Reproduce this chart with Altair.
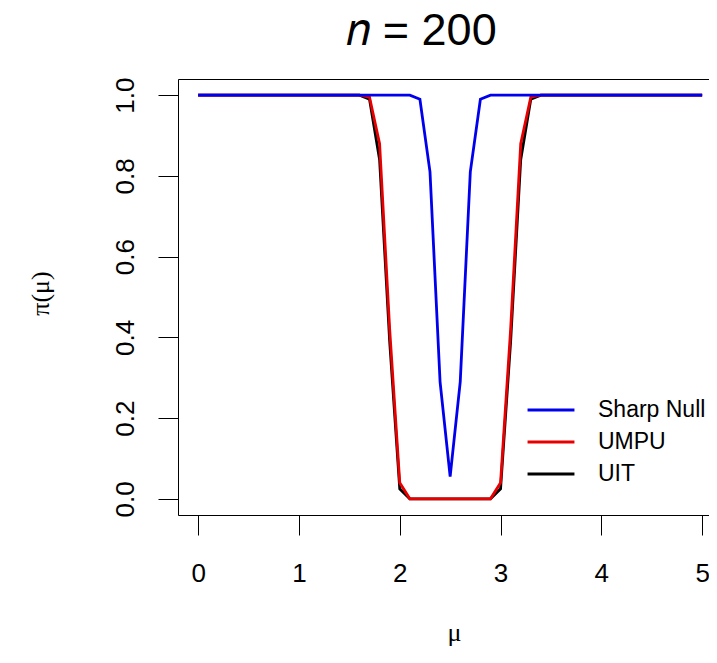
import altair as alt
import pandas as pd

# grid of mu values (x axis)
mu = [0.0, 0.1, 0.2, 0.3, 0.4, 0.5, 0.6, 0.7, 0.8, 0.9,
      1.0, 1.1, 1.2, 1.3, 1.4, 1.5, 1.6, 1.7, 1.8, 1.9,
      2.0, 2.1, 2.2, 2.3, 2.4, 2.5, 2.6, 2.7, 2.8, 2.9,
      3.0, 3.1, 3.2, 3.3, 3.4, 3.5, 3.6, 3.7, 3.8, 3.9,
      4.0, 4.1, 4.2, 4.3, 4.4, 4.5, 4.6, 4.7, 4.8, 4.9, 5.0]

sharp_null = [1.0, 1.0, 1.0, 1.0, 1.0, 1.0, 1.0, 1.0, 1.0, 1.0,
              1.0, 1.0, 1.0, 1.0, 1.0, 1.0, 1.0, 1.0, 1.0, 1.0,
              1.0, 1.0, 0.99, 0.81, 0.29, 0.055, 0.29, 0.81, 0.99, 1.0,
              1.0, 1.0, 1.0, 1.0, 1.0, 1.0, 1.0, 1.0, 1.0, 1.0,
              1.0, 1.0, 1.0, 1.0, 1.0, 1.0, 1.0, 1.0, 1.0, 1.0, 1.0]

umpu = [1.0, 1.0, 1.0, 1.0, 1.0, 1.0, 1.0, 1.0, 1.0, 1.0,
        1.0, 1.0, 1.0, 1.0, 1.0, 1.0, 1.0, 0.995, 0.88, 0.42,
        0.04, 0.0, 0.0, 0.0, 0.0, 0.0, 0.0, 0.0, 0.0, 0.0,
        0.04, 0.42, 0.88, 0.995, 1.0, 1.0, 1.0, 1.0, 1.0, 1.0,
        1.0, 1.0, 1.0, 1.0, 1.0, 1.0, 1.0, 1.0, 1.0, 1.0, 1.0]

uit = [1.0, 1.0, 1.0, 1.0, 1.0, 1.0, 1.0, 1.0, 1.0, 1.0,
       1.0, 1.0, 1.0, 1.0, 1.0, 1.0, 1.0, 0.99, 0.84, 0.39,
       0.025, 0.0, 0.0, 0.0, 0.0, 0.0, 0.0, 0.0, 0.0, 0.0,
       0.025, 0.39, 0.84, 0.99, 1.0, 1.0, 1.0, 1.0, 1.0, 1.0,
       1.0, 1.0, 1.0, 1.0, 1.0, 1.0, 1.0, 1.0, 1.0, 1.0, 1.0]

series_names = ["Sharp Null", "UMPU", "UIT"]
series_colors = ["#0000EE", "#E80000", "#000000"]

x_ticks = [0, 1, 2, 3, 4, 5]
y_ticks = [0.0, 0.2, 0.4, 0.6, 0.8, 1.0]

rows = []
for name, vals in zip(series_names, [sharp_null, umpu, uit]):
    for m, v in zip(mu, vals):
        rows.append({"mu": m, "power": v, "test": name})
df = pd.DataFrame(rows)

x_scale = alt.Scale(domain=[-0.2, 5.068], nice=False, zero=False)
y_scale = alt.Scale(domain=[-0.04, 1.04], nice=False, zero=False)
color_scale = alt.Scale(domain=series_names, range=series_colors)

x_axis_bottom = alt.Axis(
    values=x_ticks, format="d", orient="bottom",
    tickSize=20, tickColor="black", tickWidth=1,
    domainColor="black", domainWidth=1,
    labelFont="Liberation Sans", labelFontSize=26, labelColor="black",
    labelPadding=25, labelBaseline="top", labelFlush=False, labelOverlap=False,
    grid=False,
    title="μ", titleFont="Liberation Serif", titleFontSize=26,
    titleFontWeight="normal", titleColor="black",
    titleX=276, titleY=117, titleAlign="center", titleBaseline="middle",
)

x_axis_top = alt.Axis(
    orient="top", ticks=False, labels=False, grid=False, title=None,
    domainColor="black", domainWidth=1,
)

y_axis = alt.Axis(
    values=y_ticks, format=".1f",
    tickSize=20, tickColor="black", tickWidth=1,
    domainColor="black", domainWidth=1,
    labelFont="Liberation Sans", labelFontSize=26, labelColor="black",
    labelAngle=270, labelAlign="center", labelBaseline="alphabetic",
    labelPadding=25, labelFlush=False, labelOverlap=False,
    grid=False,
    title="π(μ)", titleFont="Liberation Serif", titleFontSize=26,
    titleFontWeight="normal", titleColor="black",
    titleAngle=270, titleAlign="center", titleBaseline="middle",
    titleX=-138, titleY=214,
)

legend = alt.Legend(
    orient="none", legendX=348, legendY=321, title=None,
    symbolType="stroke", symbolSize=2200, symbolStrokeWidth=3,
    labelFont="Liberation Sans", labelFontSize=23, labelColor="black",
    labelOffset=22, clipHeight=20, rowPadding=9,
)

base = alt.Chart(df)


def layer(name, x_axis):
    return base.transform_filter(alt.datum.test == name).mark_line(
        strokeWidth=2.8, clip=True
    ).encode(
        x=alt.X("mu:Q", scale=x_scale, axis=x_axis),
        y=alt.Y("power:Q", scale=y_scale, axis=y_axis),
        color=alt.Color("test:N", scale=color_scale, legend=legend,
                        sort=series_names),
        detail="test:N",
    )


chart = alt.layer(
    layer("UIT", x_axis_bottom),
    layer("UMPU", None),
    layer("Sharp Null", x_axis_top),
).resolve_axis(x="independent").properties(
    width=531, height=436,
    autosize=alt.AutoSizeParams(type="none"),
    padding={"left": 170, "top": 71, "right": 0, "bottom": 132},
    title=alt.TitleParams(
        text="𝑛 = 200", font="Liberation Sans", fontSize=45,
        fontWeight="normal", color="black", anchor="middle",
        dx=-22, dy=35, baseline="alphabetic", offset=22,
    ),
).configure_view(stroke=None).configure(background="white")

chart.save("out.html", embed_options={"renderer": "svg", "actions": False})
